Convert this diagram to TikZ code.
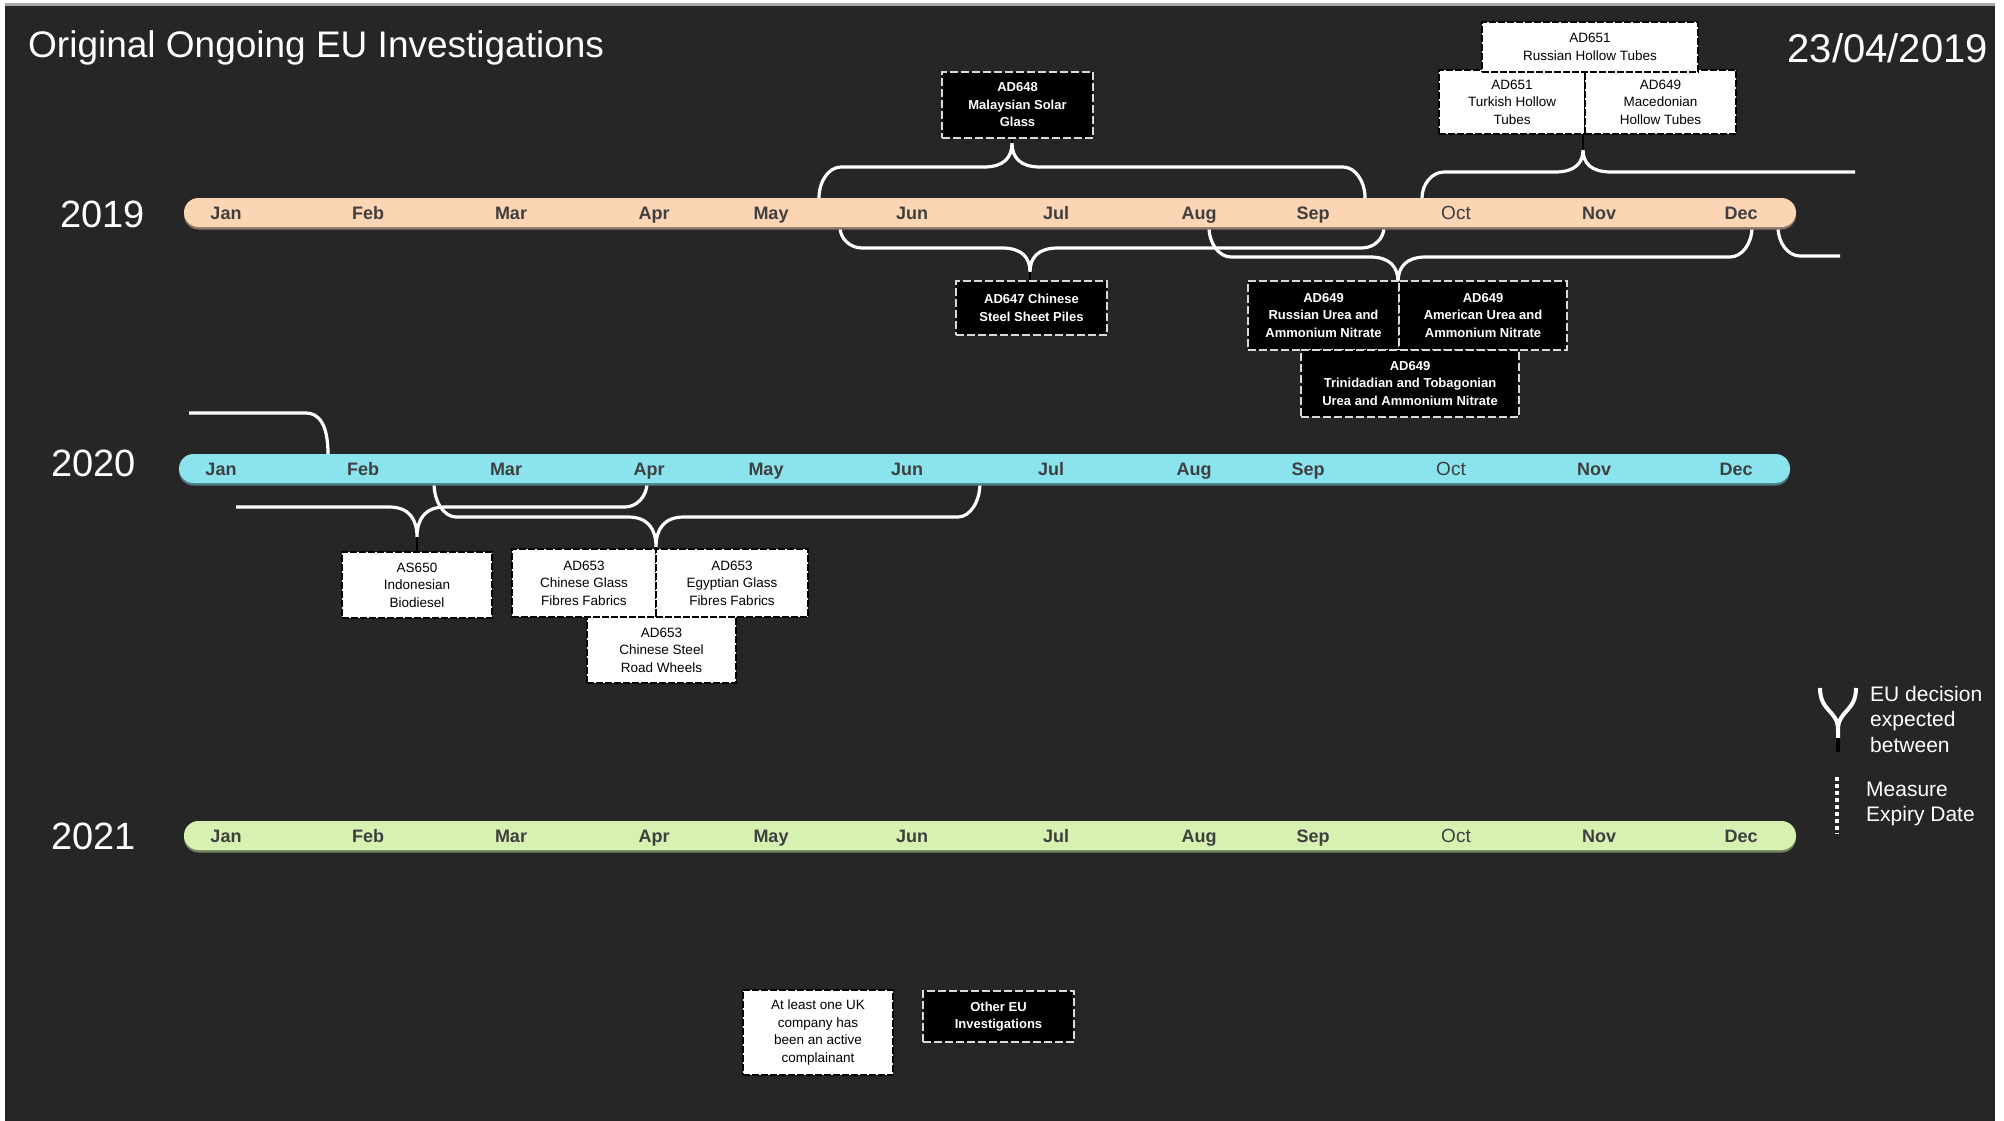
\documentclass[tikz,border=0pt]{standalone}
\usepackage{fontspec}
\setmainfont{Liberation Sans}
\definecolor{bg}{HTML}{262626}
\definecolor{bar19}{HTML}{FCD5B5}
\definecolor{bar20}{HTML}{8BE3EE}
\definecolor{bar21}{HTML}{D7F1B0}
\definecolor{mtext}{HTML}{3F3F3F}
\definecolor{kline}{HTML}{D9D9D9}
\newcommand\mybrace[6]{%
  \draw[brace] (#1,#3) .. controls (#1,{#3+0.552*(#4-#3)}) and ({#1+10},#4) .. ({#1+22},#4) -- ({#5-28},#4)
    .. controls ({#5-8},#4) and (#5,{#4+0.4*(#6-#4)}) .. (#5,#6)
    (#5,#6) .. controls (#5,{#4+0.4*(#6-#4)}) and ({#5+8},#4) .. ({#5+28},#4)
    -- ({#2-22},#4) .. controls ({#2-10},#4) and (#2,{#3+0.552*(#4-#3)}) .. (#2,#3);}
\begin{document}
\begin{tikzpicture}[x=1pt,y=-1pt,
  brace/.style={draw=white, line width=3.2, line join=round},
  stub/.style={draw=black, line width=2.5},
  wbox/.style={draw=black, fill=white, line width=1.3, dash pattern=on 7pt off 2pt,
    inner sep=0, align=center, text=black, font=\fontsize{13.5}{17.5}\selectfont},
  kbox/.style={draw=kline, fill=black, line width=1.5, dash pattern=on 8pt off 3pt,
    inner sep=0, align=center, text=white, font=\bfseries\fontsize{13}{17.5}\selectfont},
  month/.style={anchor=base, inner sep=0, text=mtext, font=\bfseries\fontsize{18}{18}\selectfont},
  monthr/.style={month, font=\fontsize{19}{19}\selectfont},
  year/.style={anchor=west, inner sep=0, text=white, font=\fontsize{38}{38}\selectfont}]
\useasboundingbox (0,0) rectangle (2004,1121);
\fill[white] (0,0) rectangle (2004,1121);
\fill[bg] (5,6) rectangle (1995,1121);
\fill[black!35] (5,3) rectangle (1995,6.5);

% title and date
\node[anchor=base west, inner sep=0, text=white, font=\fontsize{37}{37}\selectfont] (title) at (28,58) {Original Ongoing EU Investigations};
\node[anchor=base east, inner sep=0, text=white, font=\fontsize{40}{40}\selectfont] (date) at (1988,63) {23/04/2019};

% braces
\coordinate (tA) at (1012,143);
\coordinate (tB) at (1583,150);
\coordinate (tC) at (1030,272);
\coordinate (tD) at (1398,282);
\coordinate (tE) at (417,537);
\coordinate (tF) at (656,547);
\mybrace{819}{1365}{198}{167}{1012}{143}
\draw[brace] (1422,198) .. controls (1422,184) and (1432,172) .. (1444,172) -- (1555,172)
  .. controls (1575,172) and (1583,163) .. (tB)
  (tB) .. controls (1583,163) and (1591,172) .. (1611,172) -- (1855,172);
\draw[brace] (189,413) -- (306,413) .. controls (318,413) and (328,423) .. (328,454);
\mybrace{840}{1384}{227}{248}{1030}{272}
\mybrace{1209}{1752}{227}{257}{1398}{282}
\draw[brace] (1778,227) .. controls (1778,243) and (1788,256) .. (1800,256) -- (1840,256);
\draw[brace] (236,507) -- (389,507) .. controls (409,507) and (417,519) .. (tE)
  (tE) .. controls (417,519) and (425,507) .. (445,507) -- (625,507) .. controls (637,507) and (647,496) .. (647,483);
\mybrace{434}{980}{483}{517}{656}{547}

% bars
\fill[bar19!55!black, rounded corners=14.5] (184,200.5) rectangle (1796,229.5);
\fill[bar19, rounded corners=14.5] (184,198) rectangle (1796,227);
\fill[bar20!55!black, rounded corners=14.5] (179,456.5) rectangle (1790,485.5);
\fill[bar20, rounded corners=14.5] (179,454) rectangle (1790,483);
\fill[bar21!55!black, rounded corners=14.5] (184,823.5) rectangle (1796,852.5);
\fill[bar21, rounded corners=14.5] (184,821) rectangle (1796,850);

% years
\node[year] (y19) at (60,214) {2019};
\node[year] (y20) at (51,463) {2020};
\node[year] (y21) at (51,836) {2021};

% months
\foreach \m/\x in {Jan/226,Feb/368,Mar/511,Apr/654,May/771,Jun/912,Jul/1056,Aug/1199,Sep/1313,Nov/1599,Dec/1741}{
  \node[month] (m19\m) at (\x,219) {\m};
  \node[month] (m20\m) at (\x-5,475) {\m};
  \node[month] (m21\m) at (\x,842) {\m};
}
\node[monthr] (m19Oct) at (1456,219) {Oct};
\node[monthr] (m20Oct) at (1451,475) {Oct};
\node[monthr] (m21Oct) at (1456,842) {Oct};

% boxes 2019
\node[kbox, minimum width=151, minimum height=66] (b648) at (1017.5,105) {AD648\\Malaysian Solar\\Glass};
\node[wbox, minimum width=146, minimum height=64] (b651t) at (1512,102) {AD651\\Turkish Hollow\\Tubes};
\node[wbox, minimum width=151, minimum height=64] (b649m) at (1660.5,102) {AD649\\Macedonian\\Hollow Tubes};
\node[wbox, minimum width=216, minimum height=50] (b651r) at (1590,47) {AD651\\Russian Hollow Tubes};
\node[kbox, minimum width=151, minimum height=54] (b647) at (1031.5,308) {AD647 Chinese\\Steel Sheet Piles};
\node[kbox, minimum width=151, minimum height=69] (b649r) at (1323.5,315.5) {AD649\\Russian Urea and\\Ammonium Nitrate};
\node[kbox, minimum width=168, minimum height=69] (b649a) at (1483,315.5) {AD649\\American Urea and\\Ammonium Nitrate};
\node[kbox, minimum width=218, minimum height=67] (b649t) at (1410,383.5) {AD649\\Trinidadian and Tobagonian\\Urea and Ammonium Nitrate};

% boxes 2020
\node[wbox, minimum width=150, minimum height=66] (b650) at (417,585) {AS650\\Indonesian\\Biodiesel};
\node[wbox, minimum width=144, minimum height=68] (b653c) at (584,583) {AD653\\Chinese Glass\\Fibres Fabrics};
\node[wbox, minimum width=152, minimum height=68] (b653e) at (732,583) {AD653\\Egyptian Glass\\Fibres Fabrics};
\node[wbox, minimum width=149, minimum height=66] (b653w) at (661.5,650) {AD653\\Chinese Steel\\Road Wheels};

% key boxes
\node[wbox, minimum width=150, minimum height=85] (bUK) at (818,1032.5) {At least one UK\\company has\\been an active\\complainant};
\node[kbox, minimum width=151, minimum height=51] (bOther) at (998.5,1016.5) {Other EU\\Investigations};

% stubs from brace tips to boxes
\draw[stub] (tA) -- (tA |- b648.south);
\draw[stub] (tB) -- (tB |- b651t.south);
\draw[stub] (tC) -- (tC |- b647.north);
\draw[stub] (tE) -- (b650.north);
\draw[stub] (tF) -- (tF |- b653c.north);

% legend
\coordinate (lgY) at (1838,730);
\draw[brace, line width=4] (1820,688) .. controls (1820,712) and (1838,710) .. (lgY) -- (1838,738);
\draw[brace, line width=4] (1856,688) .. controls (1856,712) and (1838,710) .. (lgY);
\draw[black, line width=4] (1838,738) -- (1838,752);
\draw[white, line width=4, dash pattern=on 4pt off 3pt] (1837,777) -- (1837,834);
\node[anchor=west, align=left, inner sep=0, text=white, font=\fontsize{21}{25.5}\selectfont] (lg1) at (1870,719) {EU decision\\expected\\between};
\node[anchor=west, align=left, inner sep=0, text=white, font=\fontsize{21}{25.5}\selectfont] (lg2) at (1866,804) {Measure\\Expiry Date};
\end{tikzpicture}
\end{document}
